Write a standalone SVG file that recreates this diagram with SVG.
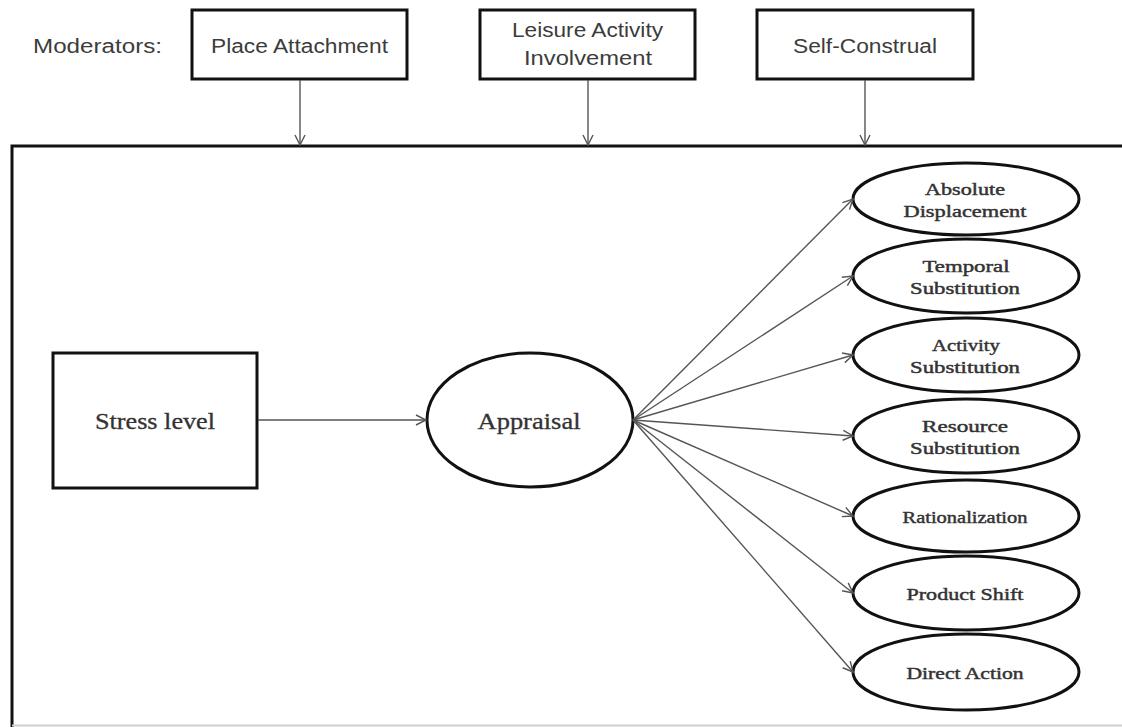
<svg xmlns="http://www.w3.org/2000/svg" width="1122" height="727" viewBox="0 0 1122 727">
  <style>
    .box { fill: #fff; stroke: #111; stroke-width: 3; }
    .oval { fill: #fff; stroke: #111; stroke-width: 3; }
    .frame { fill: none; stroke: #111; stroke-width: 3; }
    .edge { fill: none; stroke: #555; stroke-width: 1.4; marker-end: url(#chev); }
    .sans { font-family: "Liberation Sans", Arial, sans-serif; font-size: 20px; fill: #3c3c3c; text-anchor: middle; }
    .serif { font-family: "Liberation Serif", "Times New Roman", serif; font-size: 23px; fill: #333; stroke: #333; stroke-width: 0.3; text-anchor: middle; }
    .small { font-family: "Liberation Serif", "Times New Roman", serif; font-size: 17px; fill: #333; stroke: #333; stroke-width: 0.45; text-anchor: middle; }
  </style>
  <defs>
    <marker id="chev" viewBox="0 0 12 12" refX="11" refY="6" markerWidth="12" markerHeight="12" markerUnits="userSpaceOnUse" orient="auto">
      <path d="M1,1 L11,6 L1,11" fill="none" stroke="#555" stroke-width="1.4"/>
    </marker>
  </defs>

  <rect width="1122" height="727" fill="#fff"/>

  <!-- outer frame (right and bottom run off the page) -->
  <g id="frame">
    <path class="frame" d="M12,727 L12,146 L1124,146"/>
    <line x1="12" y1="725.5" x2="1122" y2="725.5" stroke="#cfcfcf" stroke-width="2"/>
  </g>

  <!-- moderators row -->
  <g id="label-moderators">
    <text class="sans" x="97.5" y="53" textLength="129" lengthAdjust="spacingAndGlyphs">Moderators:</text>
  </g>
  <g id="place-attachment">
    <rect class="box" x="192" y="10" width="215" height="69"/>
    <text class="sans" x="299.5" y="53" textLength="177" lengthAdjust="spacingAndGlyphs">Place Attachment</text>
  </g>
  <g id="leisure-activity-involvement">
    <rect class="box" x="480" y="10" width="215" height="69"/>
    <text class="sans" x="587.5" y="37" textLength="151" lengthAdjust="spacingAndGlyphs">Leisure Activity</text>
    <text class="sans" x="588" y="65" textLength="128" lengthAdjust="spacingAndGlyphs">Involvement</text>
  </g>
  <g id="self-construal">
    <rect class="box" x="757" y="10" width="216" height="69"/>
    <text class="sans" x="865" y="53" textLength="144" lengthAdjust="spacingAndGlyphs">Self-Construal</text>
  </g>

  <!-- main model -->
  <g id="stress-level">
    <rect class="box" x="53" y="353" width="204" height="135"/>
    <text class="serif" x="155" y="429" textLength="120" lengthAdjust="spacingAndGlyphs">Stress level</text>
  </g>
  <g id="appraisal">
    <ellipse class="oval" cx="530" cy="420" rx="103" ry="67"/>
    <text class="serif" x="529" y="429" textLength="103" lengthAdjust="spacingAndGlyphs">Appraisal</text>
  </g>

  <!-- coping outcomes -->
  <g id="absolute-displacement">
    <ellipse class="oval" cx="966" cy="199" rx="113" ry="36"/>
    <text class="small" x="965" y="195" textLength="80" lengthAdjust="spacingAndGlyphs">Absolute</text>
    <text class="small" x="965" y="217" textLength="123" lengthAdjust="spacingAndGlyphs">Displacement</text>
  </g>
  <g id="temporal-substitution">
    <ellipse class="oval" cx="966" cy="276" rx="113" ry="37"/>
    <text class="small" x="966" y="272" textLength="87" lengthAdjust="spacingAndGlyphs">Temporal</text>
    <text class="small" x="965" y="294" textLength="110" lengthAdjust="spacingAndGlyphs">Substitution</text>
  </g>
  <g id="activity-substitution">
    <ellipse class="oval" cx="966" cy="355" rx="113" ry="37"/>
    <text class="small" x="966" y="351" textLength="68" lengthAdjust="spacingAndGlyphs">Activity</text>
    <text class="small" x="965" y="373" textLength="110" lengthAdjust="spacingAndGlyphs">Substitution</text>
  </g>
  <g id="resource-substitution">
    <ellipse class="oval" cx="966" cy="436" rx="113" ry="37"/>
    <text class="small" x="965" y="432" textLength="86" lengthAdjust="spacingAndGlyphs">Resource</text>
    <text class="small" x="965" y="454" textLength="110" lengthAdjust="spacingAndGlyphs">Substitution</text>
  </g>
  <g id="rationalization">
    <ellipse class="oval" cx="966" cy="516" rx="113" ry="36"/>
    <text class="small" x="965" y="523" textLength="125" lengthAdjust="spacingAndGlyphs">Rationalization</text>
  </g>
  <g id="product-shift">
    <ellipse class="oval" cx="966" cy="593" rx="113" ry="37"/>
    <text class="small" x="965" y="600" textLength="117" lengthAdjust="spacingAndGlyphs">Product Shift</text>
  </g>
  <g id="direct-action">
    <ellipse class="oval" cx="966" cy="672" rx="113" ry="38"/>
    <text class="small" x="965" y="679" textLength="117" lengthAdjust="spacingAndGlyphs">Direct Action</text>
  </g>

  <!-- connectors -->
  <g id="connectors">
    <line class="edge" x1="300" y1="80" x2="300" y2="145"/>
    <line class="edge" x1="588" y1="80" x2="588" y2="145"/>
    <line class="edge" x1="865" y1="80" x2="865" y2="145"/>
    <line class="edge" x1="258" y1="420" x2="426" y2="420"/>
    <line class="edge" x1="633" y1="420" x2="853" y2="199"/>
    <line class="edge" x1="633" y1="420" x2="853" y2="276"/>
    <line class="edge" x1="633" y1="420" x2="853" y2="355"/>
    <line class="edge" x1="633" y1="420" x2="853" y2="436"/>
    <line class="edge" x1="633" y1="420" x2="853" y2="516"/>
    <line class="edge" x1="633" y1="420" x2="853" y2="593"/>
    <line class="edge" x1="633" y1="420" x2="853" y2="672"/>
  </g>
</svg>
